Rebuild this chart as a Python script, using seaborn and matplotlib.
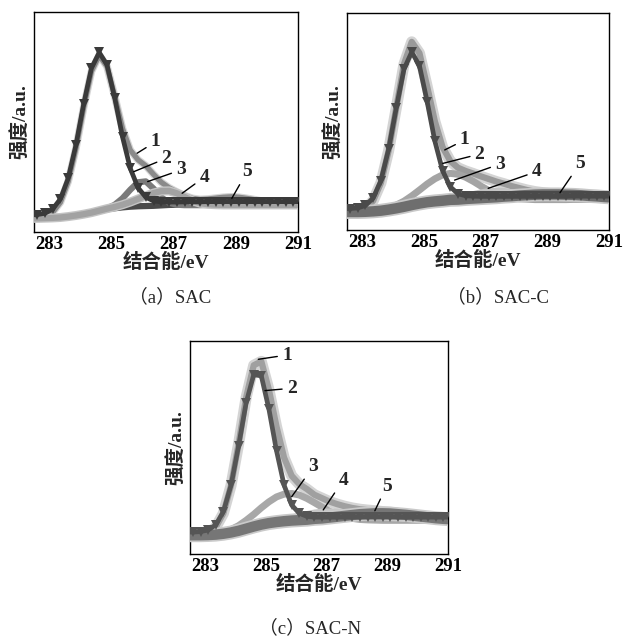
import matplotlib
matplotlib.use("Agg")
import matplotlib.pyplot as plt
import seaborn as sns

# ---------------- data ----------------
energy_ev = [282.35, 282.6, 282.85, 283.1, 283.35, 283.6, 283.85, 284.1, 284.35, 284.6,
             284.85, 285.1, 285.35, 285.6, 285.85, 286.1, 286.35, 286.6, 286.85, 287.1,
             287.35, 287.6, 287.85, 288.1, 288.35, 288.6, 288.85, 289.1, 289.35, 289.6,
             289.85, 290.1, 290.35, 290.6, 290.85, 291.1]

# (a) SAC
sac_1 = [6.2, 6.4, 7.0, 8.9, 13.5, 22.9, 38.0, 56.7, 73.0, 80.3,
         75.2, 61.6, 47.0, 37.2, 32.8, 30.1, 26.2, 22.6, 20.1, 18.2,
         16.5, 15.3, 14.8, 15.0, 15.4, 15.8, 16.0, 15.8, 15.3, 14.7,
         14.0, 13.4, 12.9, 12.6, 12.5, 12.4]
sac_2 = [7.7, 7.9, 8.5, 10.4, 15.0, 24.4, 39.5, 58.2, 74.5, 81.6,
         76.0, 60.9, 43.2, 28.9, 20.1, 15.8, 14.1, 13.7, 13.6, 13.6,
         13.7, 13.7, 13.7, 13.8, 13.8, 13.8, 13.8, 13.8, 13.8, 13.8,
         13.8, 13.8, 13.8, 13.8, 13.8, 13.8]
sac_3 = [6.2, 6.2, 6.3, 6.4, 6.6, 7.0, 7.5, 8.1, 8.8, 9.7,
         10.7, 12.4, 15.3, 19.2, 22.6, 23.0, 19.7, 15.7, 13.3, 12.4,
         12.2, 12.2, 12.2, 12.3, 12.3, 12.3, 12.3, 12.3, 12.3, 12.3,
         12.3, 12.3, 12.3, 12.3, 12.3, 12.3]
sac_4 = [6.2, 6.2, 6.3, 6.4, 6.6, 7.0, 7.5, 8.1, 8.8, 9.7,
         10.6, 11.4, 12.4, 13.6, 15.0, 16.4, 17.7, 18.6, 18.7, 17.6,
         15.9, 14.2, 13.1, 12.6, 12.4, 12.3, 12.3, 12.3, 12.3, 12.3,
         12.3, 12.3, 12.3, 12.3, 12.3, 12.3]
sac_5 = [6.2, 6.2, 6.3, 6.4, 6.6, 7.0, 7.5, 8.1, 8.8, 9.6,
         10.3, 10.8, 11.2, 11.5, 11.7, 11.8, 11.9, 12.1, 12.3, 12.4,
         12.8, 13.3, 13.9, 14.7, 15.3, 15.8, 16.0, 15.8, 15.3, 14.7,
         14.0, 13.4, 12.9, 12.6, 12.5, 12.4]

# (b) SAC-C
sacc_1 = [8.3, 8.4, 8.7, 9.8, 13.5, 21.7, 36.5, 56.4, 76.5, 86.7,
          81.5, 66.2, 50.1, 38.2, 31.8, 28.7, 27.2, 26.0, 24.7, 23.5,
          22.3, 21.3, 20.2, 19.3, 18.4, 17.7, 17.2, 16.8, 16.6, 16.4,
          16.2, 16.0, 15.7, 15.5, 15.2, 15.0]
sacc_2 = [9.8, 9.9, 10.2, 11.3, 14.8, 22.8, 37.2, 56.4, 74.2, 82.0,
          75.7, 59.2, 41.0, 27.4, 19.9, 16.7, 15.8, 15.6, 15.5, 15.5,
          15.5, 15.5, 15.5, 15.5, 15.5, 15.5, 15.5, 15.5, 15.5, 15.5,
          15.6, 15.6, 15.6, 15.6, 15.6, 15.6]
sacc_3 = [8.3, 8.3, 8.3, 8.4, 8.8, 9.3, 10.2, 11.5, 13.3, 15.7,
          18.4, 21.2, 23.6, 25.4, 26.1, 25.7, 24.3, 22.4, 20.2, 18.2,
          16.6, 15.5, 14.8, 14.4, 14.2, 14.0, 14.0, 14.0, 14.0, 14.0,
          14.1, 14.1, 14.1, 14.1, 14.1, 14.1]
sacc_4 = [8.3, 8.3, 8.3, 8.4, 8.6, 8.9, 9.4, 10.0, 10.7, 11.5,
          12.2, 12.9, 13.4, 13.9, 14.5, 15.2, 16.0, 17.0, 17.8, 18.4,
          18.6, 18.4, 17.8, 17.0, 16.1, 15.4, 14.8, 14.4, 14.2, 14.1,
          14.1, 14.1, 14.1, 14.1, 14.1, 14.1]
sacc_5 = [8.3, 8.3, 8.3, 8.4, 8.6, 8.9, 9.4, 10.0, 10.7, 11.5,
          12.2, 12.8, 13.2, 13.5, 13.9, 14.0, 14.3, 14.5, 14.7, 14.9,
          15.1, 15.4, 15.6, 15.9, 16.1, 16.3, 16.4, 16.4, 16.4, 16.3,
          16.2, 16.0, 15.7, 15.5, 15.2, 15.0]

# (c) SAC-N
sacn_1 = [8.8, 8.8, 9.0, 10.0, 12.6, 19.1, 32.1, 51.6, 73.5, 88.6,
          90.4, 77.1, 59.8, 45.2, 36.7, 32.8, 30.5, 27.8, 26.2, 24.6,
          23.4, 22.4, 21.6, 21.0, 20.6, 20.3, 19.9, 19.6, 19.1, 18.6,
          18.1, 17.6, 17.2, 16.8, 16.5, 16.3]
sacn_2 = [10.3, 10.3, 10.5, 11.3, 13.7, 19.9, 32.2, 50.7, 71.0, 84.2,
          83.6, 68.0, 48.5, 32.3, 23.0, 19.1, 17.7, 17.3, 17.3, 17.3,
          17.3, 17.3, 17.3, 17.3, 17.3, 17.3, 17.3, 17.3, 17.3, 17.3,
          17.3, 17.3, 17.3, 17.3, 17.3, 17.3]
sacn_3 = [8.8, 8.8, 8.8, 9.1, 9.5, 10.2, 11.5, 13.3, 15.8, 18.6,
          21.7, 24.5, 26.8, 28.1, 28.4, 27.7, 26.1, 24.1, 22.0, 20.0,
          18.5, 17.4, 16.7, 16.2, 16.0, 15.9, 15.8, 15.8, 15.8, 15.8,
          15.8, 15.8, 15.8, 15.8, 15.8, 15.8]
sacn_4 = [8.8, 8.8, 8.8, 8.9, 9.1, 9.5, 10.1, 10.9, 12.0, 13.1,
          14.2, 15.1, 16.0, 16.8, 17.6, 18.4, 19.2, 19.9, 20.3, 20.4,
          20.3, 19.9, 19.3, 18.6, 17.9, 17.3, 16.8, 16.4, 16.2, 16.0,
          15.9, 15.8, 15.8, 15.8, 15.8, 15.8]
sacn_5 = [8.8, 8.8, 8.8, 8.9, 9.1, 9.5, 10.1, 10.9, 11.9, 12.9,
          13.8, 14.5, 15.0, 15.4, 15.7, 15.9, 16.1, 16.5, 16.7, 17.1,
          17.5, 17.9, 18.3, 18.7, 18.9, 19.1, 19.1, 19.0, 18.7, 18.4,
          18.0, 17.6, 17.2, 16.8, 16.5, 16.3]

tick_values = [283, 284, 285, 286, 287, 288, 289, 290, 291]
tick_labels = ["283", "", "285", "", "287", "", "289", "", "291"]
curve_labels = ["1", "2", "3", "4", "5"]
captions = ["（a）SAC", "（b）SAC-C", "（c）SAC-N"]
x_title = "结合能/eV"
y_title = "强度/a.u."

# ---------------- style ----------------
sns.set_style("white")
plt.rcParams['font.family'] = ['Liberation Serif', 'Noto Sans CJK SC', 'DejaVu Sans']
plt.rcParams['axes.unicode_minus'] = False

fig = plt.figure(figsize=(6.25, 6.37), dpi=100)

ax_a = fig.add_axes([0.0544, 0.6358, 0.4224, 0.3454])
ax_b = fig.add_axes([0.5552, 0.6389, 0.4192, 0.3407])
ax_c = fig.add_axes([0.304, 0.1303, 0.4128, 0.3344])


def line(ax, y, color, lw, z, marker=None, ms=0, mcolor=None):
    kw = dict(x=energy_ev, y=y, ax=ax, color=color, linewidth=lw,
              zorder=z, legend=False, estimator=None)
    if marker:
        kw.update(marker=marker, markersize=ms, markerfacecolor=mcolor or color,
                  markeredgewidth=0)
    sns.lineplot(**kw)


# (a)
line(ax_a, sac_5, "#4a4a4a", 4.5, 2)
line(ax_a, sac_1, "#d6d6d6", 5.5, 3)
line(ax_a, sac_1, "#8a8a8a", 3.8, 3.1)
line(ax_a, sac_3, "#7a7a7a", 4.5, 4)
line(ax_a, sac_4, "#c4c4c4", 6.5, 4.9)
line(ax_a, sac_4, "#a2a2a2", 4.5, 5)
line(ax_a, sac_2, "#3a3a3a", 3.4, 6, marker="v", ms=6.5)

# (b)
line(ax_b, sacc_1, "#d4d4d4", 8.0, 2)
line(ax_b, sacc_1, "#9a9a9a", 4.5, 2.1)
line(ax_b, sacc_3, "#a4a4a4", 5.0, 3)
line(ax_b, sacc_4, "#c2c2c2", 3.0, 4)
line(ax_b, sacc_5, "#c8c8c8", 10.0, 4.9)
line(ax_b, sacc_5, "#6e6e6e", 7.5, 5)
line(ax_b, sacc_2, "#4a4a4a", 3.4, 6, marker="v", ms=6.5)

# (c)
line(ax_c, sacn_1, "#d4d4d4", 8.0, 2)
line(ax_c, sacn_1, "#a0a0a0", 4.5, 2.1)
line(ax_c, sacn_3, "#a8a8a8", 5.0, 3)
line(ax_c, sacn_4, "#c6c6c6", 3.0, 4)
line(ax_c, sacn_5, "#cacaca", 10.0, 4.9)
line(ax_c, sacn_5, "#767676", 7.5, 5)
line(ax_c, sacn_2, "#555555", 3.4, 6, marker="v", ms=6.5)

annots = {
    ax_a: [((286.41, 41.0), (285.82, 35.8)),
           ((286.76, 33.5), (285.71, 27.4)),
           ((287.23, 28.2), (286.16, 22.9)),
           ((287.98, 24.9), (287.27, 17.6)),
           ((289.36, 27.4), (288.87, 15.3))],
    ax_b: [((286.32, 41.5), (285.67, 36.9)),
           ((286.80, 35.0), (285.61, 30.7)),
           ((287.46, 30.4), (285.99, 23.0)),
           ((288.65, 26.9), (287.08, 19.2)),
           ((290.06, 30.7), (289.41, 17.2))],
    ax_c: [((285.69, 93.4), (284.75, 91.4)),
           ((285.85, 77.8), (284.97, 76.7)),
           ((286.56, 41.0), (285.85, 26.9)),
           ((287.55, 34.7), (286.89, 20.7)),
           ((288.98, 31.9), (288.59, 20.3))],
}

for ax in (ax_a, ax_b, ax_c):
    ax.set_xlim(282.5, 291)
    ax.set_ylim(0, 100)
    ax.set_yticks([])
    ax.set_xticks(tick_values)
    ax.set_xticklabels(tick_labels, fontsize=13.5, fontweight="bold")
    ax.tick_params(axis="x", direction="in", length=4, width=0.9, pad=3, colors="black")
    for s in ax.spines.values():
        s.set_color("black")
        s.set_linewidth(1.0)
        s.set_visible(True)
    ax.set_xlabel(x_title, fontsize=14, fontweight="bold", labelpad=0)
    ax.set_ylabel(y_title, fontsize=14, fontweight="bold", labelpad=3)
    for lab, (txt, pt) in zip(curve_labels, annots[ax]):
        ax.annotate(lab, xy=pt, xytext=txt, ha="center", va="center",
                    fontsize=14, fontweight="bold", zorder=10,
                    arrowprops=dict(arrowstyle="-", color="black", lw=1.0,
                                    shrinkA=1, shrinkB=0))

fig.text(0.272, 0.5338, captions[0], ha="center", va="center", fontsize=13.5)
fig.text(0.797, 0.5338, captions[1], ha="center", va="center", fontsize=13.5)
fig.text(0.496, 0.0141, captions[2], ha="center", va="center", fontsize=13.5)

fig.savefig("out.png", dpi=100)
